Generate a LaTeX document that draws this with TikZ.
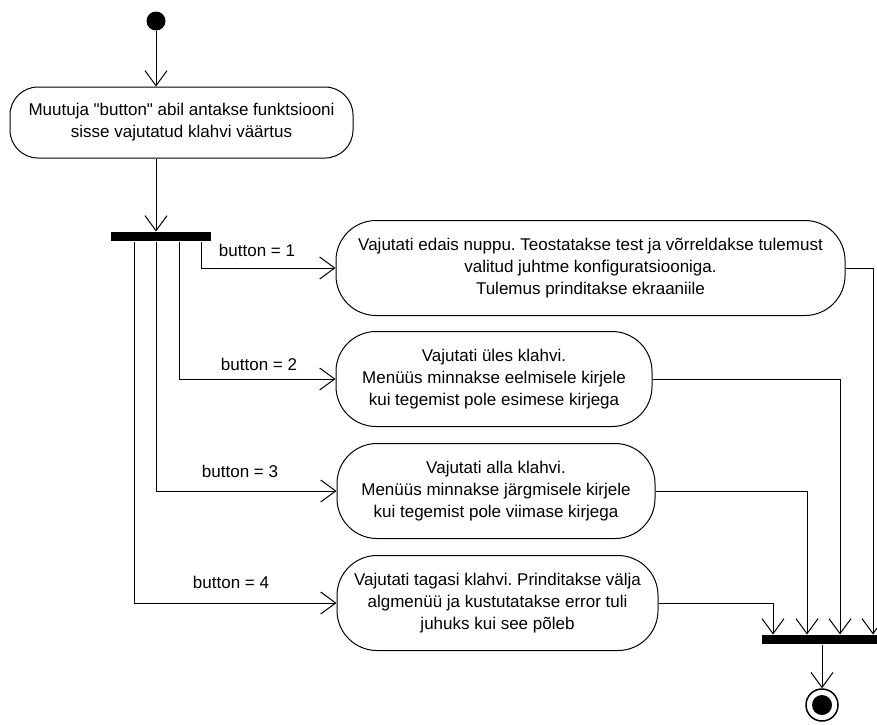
\documentclass[tikz,border=0pt]{standalone}
\usepackage{fontspec}
\setmainfont{Liberation Sans}[Ligatures=TeXOff]
\usepackage{tikz}
\usetikzlibrary{arrows.meta}
\usetikzlibrary{positioning}
\usetikzlibrary{calc}
\frenchspacing
\tikzset{
    >={Straight Barb[length=15pt,width=22pt]},
    action/.style={draw=black, fill=white, rounded corners=40pt, align=center,
        inner sep=0pt, minimum height=95pt, font=\fontsize{17}{22}\selectfont},
    startnode/.style={circle, fill=black, minimum size=19pt, inner sep=0pt},
    endnode/.style={circle, draw=black, fill=white, line width=1.5pt, minimum size=32pt, inner sep=0pt,
        path picture={\fill[black] (path picture bounding box.center) circle (10pt);}},
    syncbar/.style={rectangle, fill=black, minimum height=9pt, inner sep=0pt},
    flow/.style={draw=black, ->},
    guard/.style={inner sep=0pt, font=\fontsize{17}{22}\selectfont},
}

\begin{document}
\begin{tikzpicture}[x=1pt, y=-1pt, line width=1pt]
    \useasboundingbox (0,0) rectangle (877,724);
    % start and first action
    \node[startnode] (start) at (156,21) {};
    \node[action, rounded corners=28pt, minimum width=343pt, minimum height=71pt] (act0) at (181.5,122.5)
        {Muutuja "button" abil antakse funktsiooni\\sisse vajutatud klahvi väärtus};
    \node[syncbar, minimum width=100pt] (fork) at (161,236.5) {};
    \draw[flow] (start) -- (act0.north -| start);
    \draw[flow] (act0.south -| start) -- (fork.north -| start);
    %
    \node[action, minimum width=509pt] (act1) at (590.5,268)
        {Vajutati edais nuppu. Teostatakse test ja võrreldakse tulemust\\valitud juhtme konfiguratsiooniga.\\Tulemus prinditakse ekraaniile};
    \node[action, minimum width=316pt] (act2) at (494,379)
        {Vajutati üles klahvi.\\Menüüs minnakse eelmisele kirjele\\kui tegemist pole esimese kirjega};
    \node[action, minimum width=318pt] (act3) at (496,491)
        {Vajutati alla klahvi.\\Menüüs minnakse järgmisele kirjele\\kui tegemist pole viimase kirjega};
    \node[action, minimum width=321pt] (act4) at (497.5,603)
        {Vajutati tagasi klahvi. Prinditakse välja\\algmenüü ja kustutatakse error tuli\\juhuks kui see põleb};
    %
    \node[guard] (g1) at (257,250) {button = 1};
    \node[guard] (g2) at (259,364) {button = 2};
    \node[guard] (g3) at (240,471) {button = 3};
    \node[guard] (g4) at (231,582) {button = 4};
    \draw[flow] ([xshift=40pt]fork.south) |- (act1);
    \draw[flow] ([xshift=18pt]fork.south) |- (act2);
    \draw[flow] ([xshift=-5pt]fork.south) |- (act3);
    \draw[flow] ([xshift=-27pt]fork.south) |- (act4);
    % join and end
    \node[syncbar, minimum width=120pt] (join) at (822,639.5) {};
    \node[endnode] (final) at (822,705) {};
    \draw[flow] (act1) -| ([xshift=51pt]join.north);
    \draw[flow] (act2) -| ([xshift=18pt]join.north);
    \draw[flow] (act3) -| ([xshift=-15pt]join.north);
    \draw[flow] (act4) -| ([xshift=-49pt]join.north);
    \draw[flow] (join) -- (final);
\end{tikzpicture}
\end{document}
